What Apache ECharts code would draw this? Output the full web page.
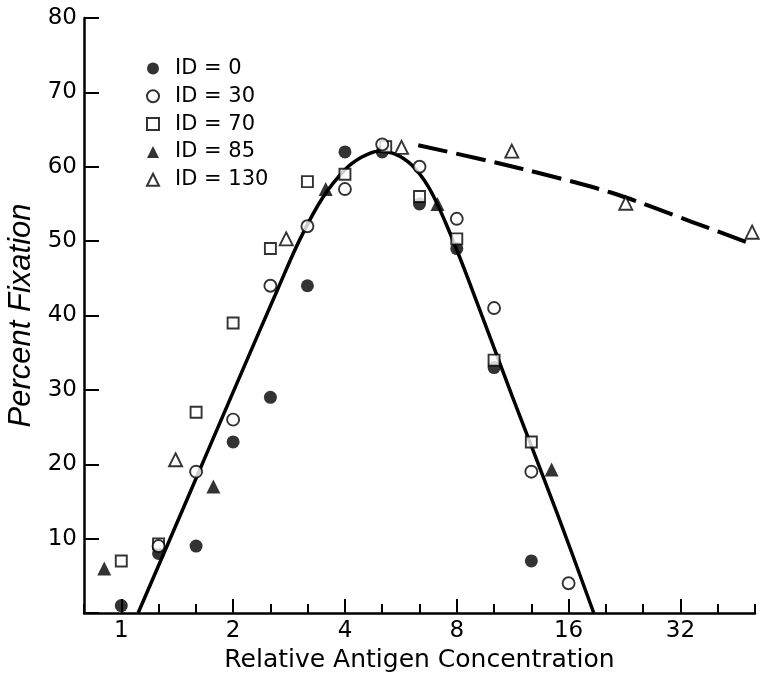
<!DOCTYPE html>
<html>
<head>
<meta charset="utf-8">
<script src="https://cdn.jsdelivr.net/npm/echarts@6/dist/echarts.min.js"></script>
<style>html,body{margin:0;padding:0;background:#fff}#c{width:760px;height:683px}</style>
</head>
<body>
<div id="c"></div>
<script>
// ---- data (concentration, percent fixation) ----
const id0Conc = [1, 1.26, 1.59, 2, 2.52, 3.17, 4, 5.04, 6.35, 8, 10.08, 12.7];
const id0Fix  = [1, 8, 9, 23, 29, 44, 62, 62, 55, 49, 33, 7];
const id30Conc = [1.26, 1.59, 2, 2.52, 3.17, 4, 5.04, 6.35, 8, 10.08, 12.7, 16];
const id30Fix  = [9, 19, 26, 44, 52, 57, 63, 60, 53, 41, 19, 4];
const id70Conc = [1, 1.26, 1.59, 2, 2.52, 3.17, 4, 5.15, 6.35, 8, 10.08, 12.7];
const id70Fix  = [7, 9.3, 27, 39, 49, 58, 59, 62.7, 56, 50.3, 34, 23];
const id85Conc = [0.9, 1.77, 3.55, 7.1, 14.4];
const id85Fix  = [6, 17, 57, 55, 19.3];
const id130Conc = [1.4, 2.78, 5.68, 11.25, 22.8, 49.9];
const id130Fix  = [20.6, 50.3, 62.6, 62.1, 55.1, 51.2];
// fitted curves
const fitConc = [1.11, 1.516, 2, 2.64, 3.03, 3.48, 4, 4.44, 4.92, 5.46, 6.06, 6.73, 7.46, 8.57, 11.31, 14.93, 18.7];
const fitFix  = [0, 15.7, 29.7, 43.6, 50.3, 55.8, 59.6, 61.3, 62.1, 61.7, 60.2, 57.2, 52.5, 45, 29, 13.3, 0];
const dashConc = [6.3, 11.8, 20.9, 34.3, 49.9];
const dashFix  = [62.9, 59.8, 56.5, 52.6, 49.6];
// axis ticks (log2 of concentration)
const majorTicks = [0, 1, 2, 3, 4, 5];
const minorTicks = [-1/3, 1/3, 2/3, 4/3, 5/3, 7/3, 8/3, 10/3, 11/3, 13/3, 14/3, 16/3, 17/3];

const pts = (c, f) => c.map((v, i) => [Math.log2(v), f[i]]);
const FONT = 'DejaVu Sans';
const XMIN = -1/3, XMAX = 17/3;

const chart = echarts.init(document.getElementById('c'), null, {renderer: 'canvas'});
const openStyle = {color: '#fff', borderColor: '#000', borderWidth: 1.9};
const fillStyle = {color: '#000', borderColor: '#000', borderWidth: 0};

chart.setOption({
  animation: false,
  backgroundColor: '#fff',
  grid: {left: 84, right: 5, top: 18, bottom: 70, containLabel: false, outerBoundsMode: 'none'},
  legend: {
    orient: 'vertical', left: 141, top: 53,
    itemWidth: 12, itemHeight: 12, itemGap: 6.8,
    textStyle: {fontFamily: FONT, fontSize: 21, lineHeight: 21, color: '#000', padding: [0, 0, 0, 11]},
    data: ['ID = 0', 'ID = 30', 'ID = 70', 'ID = 85', 'ID = 130']
  },
  xAxis: [{
    type: 'value', min: XMIN, max: XMAX, position: 'bottom',
    name: 'Relative Antigen Concentration', nameLocation: 'middle', nameGap: 31,
    nameTextStyle: {fontFamily: FONT, fontSize: 25, color: '#000'},
    splitLine: {show: false},
    axisLine: {show: true, onZero: false, lineStyle: {color: '#000', width: 2.5}},
    axisTick: {show: true, inside: true, length: 14, customValues: majorTicks, lineStyle: {color: '#000', width: 2}},
    axisLabel: {show: true, customValues: majorTicks, margin: 7, fontFamily: FONT, fontSize: 23, color: '#000',
      formatter: v => String(Math.round(Math.pow(2, v)))}
  }, {
    type: 'value', min: XMIN, max: XMAX, position: 'bottom',
    splitLine: {show: false},
    axisLine: {show: false, onZero: false},
    axisTick: {show: true, inside: true, length: 9, customValues: minorTicks, lineStyle: {color: '#000', width: 2}},
    axisLabel: {show: false}
  }],
  yAxis: {
    type: 'value', min: 0, max: 80, interval: 10,
    name: 'Percent Fixation', nameLocation: 'middle', nameGap: 42,
    nameTextStyle: {fontFamily: 'Liberation Sans', fontStyle: 'italic', fontSize: 31, color: '#000'},
    splitLine: {show: false},
    axisLine: {show: true, onZero: false, lineStyle: {color: '#000', width: 2.5}},
    axisTick: {show: true, inside: true, length: 15, lineStyle: {color: '#000', width: 2}},
    axisLabel: {margin: 7, fontFamily: FONT, fontSize: 23, color: '#000',
      formatter: v => (v === 0 ? '' : String(v))}
  },
  series: [
    {type: 'line', name: 'fit', data: pts(fitConc, fitFix), smooth: 0.35, symbol: 'none', z: 2,
      lineStyle: {color: '#000', width: 3.5}},
    {type: 'line', name: 'fit130', data: pts(dashConc, dashFix), smooth: 0.3, symbol: 'none', z: 2,
      lineStyle: {color: '#000', width: 4, type: [30, 9]}},
    {type: 'scatter', name: 'ID = 130', data: pts(id130Conc, id130Fix), symbol: 'triangle', symbolSize: 13, z: 3, itemStyle: openStyle},
    {type: 'scatter', name: 'ID = 85', data: pts(id85Conc, id85Fix), symbol: 'triangle', symbolSize: 14, z: 3, itemStyle: fillStyle},
    {type: 'scatter', name: 'ID = 0', data: pts(id0Conc, id0Fix), symbol: 'circle', symbolSize: 13, z: 3, itemStyle: fillStyle},
    {type: 'scatter', name: 'ID = 70', data: pts(id70Conc, id70Fix), symbol: 'rect', symbolSize: 11, z: 4, itemStyle: openStyle},
    {type: 'scatter', name: 'ID = 30', data: pts(id30Conc, id30Fix), symbol: 'circle', symbolSize: 12, z: 4, itemStyle: openStyle}
  ]
});
</script>
</body>
</html>
